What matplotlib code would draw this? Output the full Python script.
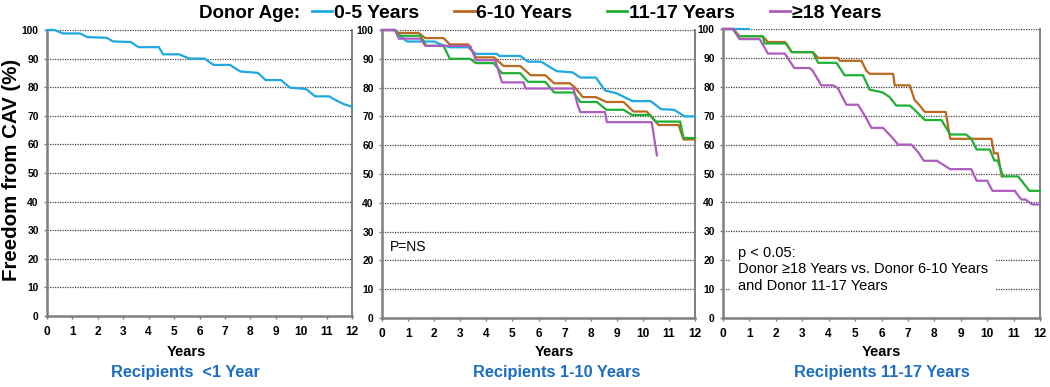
import matplotlib
matplotlib.use("Agg")
import matplotlib.pyplot as plt
from matplotlib.lines import Line2D

plt.rcParams['font.family'] = ['Liberation Sans', 'DejaVu Sans']

# ---------------- data ----------------
series_names = ["0-5 Years", "6-10 Years", "11-17 Years", "\u226518 Years"]
series_colors = ["#1EA8E0", "#B8681F", "#1FAF35", "#AD5CBD"]
panel_titles = ["Recipients  <1 Year", "Recipients 1-10 Years", "Recipients 11-17 Years"]
x_ticks = list(range(0, 13))
y_ticks = list(range(0, 101, 10))

# Panel 1: recipients <1 year (only donor 0-5)
p1_blue_x = [0, 0.3, 0.63, 1.29, 1.6, 2.34, 2.6, 3.3, 3.6, 4.4, 4.57, 5.2, 5.6, 6.2, 6.55, 7.2, 7.6,
             7.9, 8.3, 8.6, 9.2, 9.57, 9.9, 10.2, 10.55, 11.1, 11.35, 11.7, 12]
p1_blue_y = [100, 100, 98.8, 98.8, 97.5, 97.3, 96, 95.8, 94, 94, 91.5, 91.5, 90, 90, 87.8, 87.8, 85.5,
             85.3, 85, 82.5, 82.5, 79.8, 79.6, 79.3, 76.8, 76.8, 75.5, 74, 73.2]

# Panel 2: recipients 1-10 years
p2_blue_x = [0, 0.5, 0.75, 0.96, 2.0, 2.25, 2.6, 3.3, 3.6, 4.4, 4.5, 5.3, 5.6, 6.1, 6.7, 7.3, 7.6,
             8.2, 8.55, 9.0, 9.6, 10.3, 10.7, 11.2, 11.6, 12]
p2_blue_y = [100, 100, 97.5, 96, 96, 95, 94, 94, 91.7, 91.7, 91, 91, 89, 89, 85.7, 85.3, 83.5,
             83.5, 79, 78, 75.3, 75.3, 72.5, 72.3, 70, 70]
p2_orange_x = [0, 0.5, 0.57, 1.4, 1.66, 2.36, 2.6, 3.3, 3.6, 4.3, 4.66, 5.3, 5.7, 6.26, 6.6, 7.2,
               7.4, 7.7, 8.2, 8.6, 9.26, 9.64, 10.15, 10.6, 11.37, 11.56, 12]
p2_orange_y = [100, 100, 99, 99, 97.2, 97.2, 95, 95, 90.5, 90.5, 87.5, 87.5, 84.3, 84.3, 81.5, 81.5,
               80, 76.7, 76.7, 75, 75, 71.7, 71.7, 67, 67, 62, 62]
p2_green_x = [0, 0.5, 0.64, 1.47, 1.7, 2.36, 2.6, 3.38, 3.6, 4.28, 4.6, 5.3, 5.6, 6.26, 6.6, 7.34,
              7.6, 8.24, 8.6, 9.26, 9.58, 10.28, 10.5, 11.43, 11.56, 12]
p2_green_y = [100, 100, 98, 98, 94.5, 94.5, 90, 90, 88.5, 88.5, 85, 85, 82, 82, 78.3, 78.3,
              75, 75, 72.3, 72.3, 70.5, 70.5, 68.2, 68.2, 62.5, 62.5]
p2_purple_x = [0, 0.5, 0.64, 1.47, 1.66, 3.38, 3.6, 4.34, 4.6, 5.43, 5.5, 7.34, 7.5, 7.6, 8.55,
               8.62, 10.34, 10.54]
p2_purple_y = [100, 100, 97, 97, 94.5, 94.5, 89.5, 89.5, 81.8, 81.8, 79.7, 79.7, 74, 71.5, 71.5,
               68, 68, 56.5]

# Panel 3: recipients 11-17 years
p3_blue_x = [0, 1.0]
p3_blue_y = [100, 100]
p3_orange_x = [0, 0.38, 0.63, 1.5, 1.7, 2.34, 2.6, 3.4, 3.6, 4.36, 4.42, 5.24, 5.43, 5.55, 6.44,
               6.5, 7.07, 7.25, 7.45, 7.64, 8.43, 8.6, 10.16, 10.26, 10.4, 10.55]
p3_orange_y = [100, 100, 97.5, 97.5, 95.5, 95.5, 92, 92, 90, 90, 89, 89, 85.5, 84.5, 84.5,
               80.5, 80.5, 75.5, 73.5, 71.3, 71.3, 62, 62, 57, 57, 49]
p3_green_x = [0, 0.38, 0.57, 1.5, 1.58, 2.4, 2.6, 3.4, 3.6, 4.3, 4.6, 5.3, 5.55, 5.93, 6.05, 6.3,
              6.56, 7.07, 7.2, 7.64, 8.27, 8.4, 8.6, 9.2, 9.4, 9.6, 10.1, 10.27, 10.4, 10.6, 11.17,
              11.3, 11.43, 11.6, 12]
p3_green_y = [100, 100, 97.5, 97.5, 95, 95, 92, 92, 88.3, 88.3, 84, 84, 79, 78.3, 78, 76.5,
              73.5, 73.5, 72.5, 68.5, 68.5, 66.5, 63.5, 63.5, 62, 58.3, 58.3, 54.5, 54.5, 49, 49,
              47.5, 46, 44, 44]
p3_purple_x = [0, 0.38, 0.63, 1.39, 1.7, 2.34, 2.7, 3.28, 3.4, 3.72, 4.17, 4.35, 4.67, 5.11, 5.37,
               5.62, 6.06, 6.4, 6.63, 7.13, 7.38, 7.6, 8.1, 8.6, 9.4, 9.6, 10.0, 10.2, 11.05, 11.2,
               11.3, 11.45, 11.7, 12]
p3_purple_y = [100, 100, 96.5, 96.5, 91.5, 91.5, 86.5, 86.5, 85.5, 80.5, 80.5, 79.5, 73.8, 73.8,
               70, 65.8, 65.8, 62.5, 60, 60, 57.5, 54.4, 54.4, 51.5, 51.5, 47.5, 47.5, 44, 44, 42,
               41, 41, 39.3, 39.3]

panels = [
    [(0, p1_blue_x, p1_blue_y)],
    [(0, p2_blue_x, p2_blue_y), (1, p2_orange_x, p2_orange_y),
     (2, p2_green_x, p2_green_y), (3, p2_purple_x, p2_purple_y)],
    [(0, p3_blue_x, p3_blue_y), (1, p3_orange_x, p3_orange_y),
     (2, p3_green_x, p3_green_y), (3, p3_purple_x, p3_purple_y)],
]

# ---------------- layout ----------------
W, H = 1050, 387
fig = plt.figure(figsize=(W / 100, H / 100), dpi=100)

def px_axes(l, r, t, b):
    return fig.add_axes([l / W, 1 - b / H, (r - l) / W, (b - t) / H])

boxes = [(47, 352, 30, 316), (382, 695, 30, 318), (723, 1040, 29, 318)]
title_centers = [185, 557, 882]
years_centers = [186, 554, 881]
title_color = "#1B6EC2"
spine_color = "#7F7F7F"

for i, (box, lines) in enumerate(zip(boxes, panels)):
    ax = px_axes(*box)
    ax.set_xlim(0, 12)
    ax.set_ylim(0, 100)
    ax.set_xticks(x_ticks)
    ax.set_yticks(y_ticks)
    ax.set_xticklabels([str(v) for v in x_ticks], fontsize=8.6, fontweight='bold')
    ax.set_yticklabels([str(v) for v in y_ticks], fontsize=7.4, fontweight='bold')
    ax.tick_params(axis='x', length=2.5, width=1, color=spine_color, pad=4.5)
    ax.tick_params(axis='y', length=2.5, width=1, color=spine_color, pad=3.5)
    for sp in ['left', 'bottom']:
        ax.spines[sp].set_color(spine_color)
        ax.spines[sp].set_linewidth(1.8)
    ax.spines['right'].set_color(spine_color)
    ax.spines['right'].set_linewidth(1.4)
    ax.spines['top'].set_visible(False)
    for yv in y_ticks[1:]:
        ax.axhline(yv, color='#444444', lw=0.9, ls=(0, (1, 1)), zorder=0.5)
    for idx, xs, ys in lines:
        ax.plot(xs, ys, color=series_colors[idx], lw=1.6, zorder=3, clip_on=False)
    fig.text(years_centers[i] / W, 1 - 352 / H, "Years", ha='center', va='center',
             fontsize=10.5, fontweight='bold')
    fig.text(title_centers[i] / W, 1 - 372 / H, panel_titles[i], ha='center', va='center',
             fontsize=11.8, fontweight='bold', color=title_color)
    if i == 1:
        ax.text(0.3, 24.7, "P=NS", ha='left', va='center', fontsize=10)
    if i == 2:
        ax.text(0.57, 16.8,
                "p < 0.05:\nDonor \u226518 Years vs. Donor 6-10 Years\nand Donor 11-17 Years",
                ha='left', va='center', fontsize=10.5, linespacing=1.2, zorder=2,
                bbox=dict(boxstyle='square,pad=0.55', fc='white', ec='none'))

fig.text(12 / W, 1 - 170 / H, "Freedom from CAV (%)", rotation=90, ha='center', va='center',
         fontsize=14.8, fontweight='bold')

# legend
fig.text(300 / W, 1 - 13 / H, "Donor Age:", ha='right', va='center', fontsize=13.5,
         fontweight='bold')
handles = [Line2D([], [], color=c, lw=2) for c in series_colors]
fig.legend(handles, series_names, loc='center left', bbox_to_anchor=(312 / W, 1 - 13 / H),
           ncol=4, frameon=False, borderpad=0, borderaxespad=0, handlelength=1.05,
           handletextpad=0.08, columnspacing=1.8,
           prop={'size': 14, 'weight': 'bold', 'family': ['Liberation Sans', 'DejaVu Sans']})

fig.savefig("out.png", dpi=100)
